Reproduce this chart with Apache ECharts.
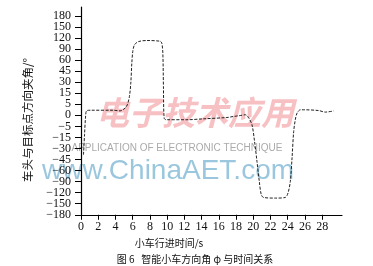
<!DOCTYPE html>
<html>
<head>
<meta charset="utf-8">
<script src="https://cdn.jsdelivr.net/npm/echarts@6/dist/echarts.min.js"></script>
<style>
html,body{margin:0;padding:0;background:#fff;}
#chart{width:373px;height:266px;}
</style>
</head>
<body>
<div id="chart"></div>
<script>
// ---- data ----
const timeS = [0.29, 0.41, 0.52, 0.64, 1.05, 3.72, 4.53, 5.12, 5.38, 5.62, 5.78, 5.90, 6.01, 6.20, 6.66, 7.64, 9.19, 9.38, 9.50, 9.57, 9.65, 9.88, 12.29, 14.19, 16.94, 17.67, 18.49, 19.07, 19.45, 19.85, 20.15, 20.43, 20.70, 20.93, 21.20, 22.56, 23.72, 24.03, 24.30, 24.50, 24.69, 24.88, 25.08, 25.47, 25.85, 27.59, 28.37, 29.34];
const angleDeg = [-38.5, -12.6, -1.2, 2.0, 2.3, 2.3, 2.0, 3.25, 4.75, 12, 28.6, 55.8, 83, 101, 110, 113, 111, 106, 79.5, 24, -1.25, -2, -2, -1.6, -1, -0.55, -0.1, 0.25, -1, -4.3, -20.5, -47.7, -89.7, -125.7, -133, -134.7, -133, -121, -89.7, -43, -9.7, -2, 1, 2.5, 2.5, 2.15, 1.45, 2];
const yTickValues = [-180, -150, -120, -90, -60, -45, -30, -15, -5, 0, 5, 15, 30, 45, 60, 90, 120, 150, 180];
const xTickValues = [0, 2, 4, 6, 8, 10, 12, 14, 16, 18, 20, 22, 24, 26, 28];

const yAxisName = '车头与目标点方向夹角/°';
const xAxisName = '小车行进时间/s';
const caption = '图 6   智能小车方向角 φ 与时间关系';

// the y axis is non-linear: ticks are evenly spaced, map an angle to its tick position
function anglePos(v) {
  for (let i = 0; i < yTickValues.length - 1; i++) {
    const a = yTickValues[i], b = yTickValues[i + 1];
    if (v >= a && v <= b) return i + (v - a) / (b - a);
  }
  return v < yTickValues[0] ? 0 : yTickValues.length - 1;
}
function fmtAngle(v) { return v < 0 ? '\u2212' + Math.abs(v) : String(v); }

const seriesData = timeS.map((t, i) => [t, anglePos(angleDeg[i])]);
const yIdx = yTickValues.map((_, i) => i);
const Y_MIN = -0.02, Y_MAX = 18.8;
// blank guard labels at both ends so no real label is dropped by min/max overlap logic
const yLabelPos = [Y_MIN].concat(yIdx, [Y_MAX]);

const chart = echarts.init(document.getElementById('chart'));
const serif = '"Liberation Serif", "DejaVu Serif", serif';
const cjk = '"Noto Sans CJK SC", sans-serif';
chart.setOption({
  animation: false,
  backgroundColor: '#fff',
  grid: { left: 81, right: 31, top: 7, bottom: 51, containLabel: false },
  xAxis: {
    type: 'value', min: 0, max: 30.3, interval: 2,
    axisLine: { lineStyle: { color: '#000', width: 1.2 } },
    axisTick: { show: true, length: 5, inside: false, customValues: xTickValues, lineStyle: { color: '#000', width: 1 } },
    axisLabel: { customValues: xTickValues, margin: 6, color: '#111', fontSize: 12, fontFamily: serif, showMinLabel: true, hideOverlap: false },
    splitLine: { show: false }
  },
  yAxis: {
    type: 'value', min: Y_MIN, max: Y_MAX,
    axisLine: { show: true, lineStyle: { color: '#000', width: 1.2 } },
    axisTick: { show: true, length: 6, inside: false, customValues: yIdx, lineStyle: { color: '#000', width: 1 } },
    axisLabel: {
      customValues: yLabelPos, margin: 10, color: '#111', fontSize: 12, fontFamily: serif,
      hideOverlap: false,
      formatter: function (v) {
        const i = Math.round(v);
        if (Math.abs(v - i) > 0.001 || i < 0 || i >= yTickValues.length) return '';
        return fmtAngle(yTickValues[i]);
      }
    },
    splitLine: { show: false }
  },
  graphic: [
    { type: 'text', z: 0, x: 195, y: 112, style: { text: '电子技术应用', fill: 'rgba(240,140,145,0.55)', font: 'italic bold 33px ' + cjk, textAlign: 'center', textVerticalAlign: 'middle' } },
    { type: 'text', z: 0, x: 177, y: 148, style: { text: 'APPLICATION OF ELECTRONIC TECHNIQUE', fill: '#aaa', font: '10px "Liberation Sans", sans-serif', textAlign: 'center', textVerticalAlign: 'middle' } },
    { type: 'text', z: 0, x: 168, y: 171, style: { text: 'www.ChinaAET.com', fill: 'rgba(120,180,210,0.75)', font: '28px "Liberation Sans", sans-serif', textAlign: 'center', textVerticalAlign: 'middle' } },
    { type: 'text', z: 10, x: 28, y: 120, rotation: Math.PI / 2, style: { text: yAxisName, fill: '#111', font: '11.5px ' + cjk, textAlign: 'center', textVerticalAlign: 'middle' } },
    { type: 'text', z: 10, x: 169, y: 243, style: { text: xAxisName, fill: '#111', font: '10px ' + cjk, textAlign: 'center', textVerticalAlign: 'middle' } },
    { type: 'text', z: 10, x: 195, y: 259, style: { text: caption, fill: '#111', font: '10px ' + cjk, textAlign: 'center', textVerticalAlign: 'middle' } }
  ],
  series: [{
    type: 'line', data: seriesData, showSymbol: false, smooth: 0.3, z: 5,
    lineStyle: { color: '#222', width: 1, type: [3, 1.5] }
  }]
});
</script>
</body>
</html>
